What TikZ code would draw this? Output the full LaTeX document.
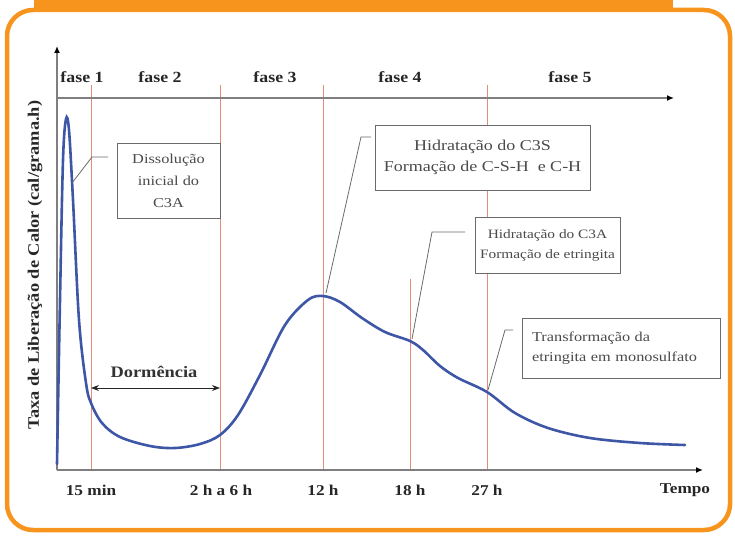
\documentclass[tikz,border=0pt]{standalone}
\usepackage{fontspec}
\setmainfont{Liberation Serif}[FakeStretch=1.15]
\newfontfamily\boxfont{Liberation Serif}[FakeStretch=1.2]
\usetikzlibrary{arrows.meta}
\definecolor{frameor}{HTML}{F7941D}
\definecolor{curveblue}{HTML}{3D56A6}
\definecolor{redline}{HTML}{E88A78}
\definecolor{axisgray}{HTML}{7F7F7F}
\definecolor{boxgray}{HTML}{6A6A6A}
\definecolor{txtgray}{HTML}{4A4A4A}
\begin{document}
\begin{tikzpicture}[x=1pt,y=-1pt,
  axis/.style={draw=axisgray,line width=1.8pt,-{Latex[length=7pt,width=6pt,black]}},
  redl/.style={draw=redline,line width=0.9pt},
  lead/.style={draw=boxgray,line width=0.8pt},
  infobox/.style={draw=boxgray,line width=0.9pt,fill=white,text=txtgray,inner sep=0pt},
  phase/.style={font=\fontsize{15.5}{18}\selectfont\bfseries,text=black!85,inner sep=0pt},
  tick/.style={font=\fontsize{15}{17}\selectfont\bfseries,text=black!85,inner sep=0pt}]
\useasboundingbox (0,0) rectangle (735,535);
% frame
\fill[frameor] (34,0) rectangle (673,12);
\draw[frameor,line width=4.5pt,rounded corners=26pt] (7,10) rectangle (730,530);
% red vertical lines
\draw[redl] (91,85) -- (91,470);
\draw[redl] (220,85) -- (220,470);
\draw[redl] (323,85) -- (323,470);
\draw[redl] (410,279) -- (410,470);
\draw[redl] (487,85) -- (487,470);
% axes
\coordinate (O) at (57,470);
\coordinate (ytop) at (57,46);
\coordinate (xend) at (703,470);
\coordinate (pstart) at (57,98);
\coordinate (pend) at (674,98);
\draw[axis] (O) -- (ytop);
\draw[axis] (O) -- (xend);
\draw[axis] (pstart) -- (pend);
% phase labels
\node[phase] (f1) at (82,77) {fase 1};
\node[phase] (f2) at (160,77) {fase 2};
\node[phase] (f3) at (275,77) {fase 3};
\node[phase] (f4) at (400,77) {fase 4};
\node[phase] (f5) at (570,77) {fase 5};
% tick labels
\node[tick] (t1) at (91,490) {15 min};
\node[tick] (t2) at (221,490) {2 h a 6 h};
\node[tick] (t3) at (323,490) {12 h};
\node[tick] (t4) at (410,490) {18 h};
\node[tick] (t5) at (487,490) {27 h};
\node[tick] (t6) at (685,490) {Tempo};
% y label
\node[rotate=90,font=\fontsize{16}{18}\selectfont\bfseries,text=black!85,inner sep=0pt] (ylab) at (35,265) {Taxa de Liberação de Calor (cal/grama.h)};
% curve
\draw[curveblue,line width=2.6pt,line cap=round] plot[smooth,tension=0.55] coordinates {
 (57,464) (60,300) (63,160) (66,119) (69,130) (73,200) (79,320) (86,383) (91,403) (102,423) (120,437) (150,446) (175,448) (200,444) (220,435) (238,415) (260,375) (285,325) (308,300) (323,296) (340,302) (362,318) (385,332) (410,341) (423,350) (440,366) (458,378) (487,392) (515,413) (548,428) (590,438) (640,443) (685,445)};
% dormencia
\coordinate (d1) at (91,388);
\coordinate (d2) at (220,388);
\draw[black!85,line width=1pt,{Stealth[length=8pt,width=6pt]}-{Stealth[length=8pt,width=6pt]}] (d1) -- (d2);
\node[font=\fontsize{16}{18}\selectfont\bfseries,text=black!80,inner sep=0pt] (dorm) at (154,372) {Dormência};
% boxes
\node[infobox,minimum width=103pt,minimum height=75pt,align=center,font=\boxfont\fontsize{13.6}{22}\selectfont] (b1) at (168.5,180.5) {Dissolução\\inicial do\\C3A};
\node[infobox,minimum width=215pt,minimum height=65pt,align=center,font=\boxfont\fontsize{15}{21}\selectfont] (b2) at (482.5,157.5) {Hidratação do C3S\\Formação de C-S-H \ e C-H};
\node[infobox,minimum width=145pt,minimum height=56pt,align=center,font=\boxfont\fontsize{12.8}{20}\selectfont] (b3) at (547.5,245) {Hidratação do C3A\\Formação de etringita};
\node[infobox,minimum width=198pt,minimum height=60pt,align=left,text width=178pt,font=\boxfont\fontsize{13.6}{20}\selectfont] (b4) at (621,348) {Transformação da\\etringita em monosulfato};
% leaders
\coordinate (l1a) at (108,157); \coordinate (l1b) at (92,157); \coordinate (l1c) at (72,183);
\draw[lead] (l1a) -- (l1b) -- (l1c);
\coordinate (l2a) at (371,137); \coordinate (l2b) at (361,137); \coordinate (l2c) at (326,293);
\draw[lead] (l2a) -- (l2b) -- (l2c);
\coordinate (l3a) at (465,232); \coordinate (l3b) at (432,232); \coordinate (l3c) at (412,339);
\draw[lead] (l3a) -- (l3b) -- (l3c);
\coordinate (l4a) at (513,330); \coordinate (l4b) at (505,330); \coordinate (l4c) at (488,390);
\draw[lead] (l4a) -- (l4b) -- (l4c);
\end{tikzpicture}
\end{document}
